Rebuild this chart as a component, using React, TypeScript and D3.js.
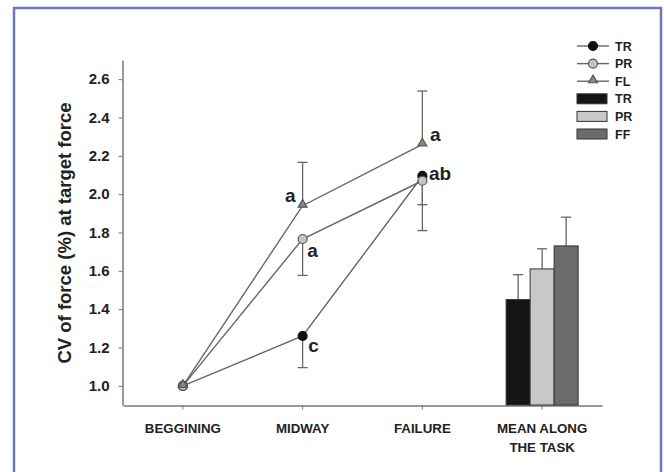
import { useEffect, useRef } from "react";
import * as d3 from "d3";

// stages along the task (x axis)
const stages = ["BEGGINING", "MIDWAY", "FAILURE", "MEAN ALONG THE TASK"];
const stageLines = [["BEGGINING"], ["MIDWAY"], ["FAILURE"], ["MEAN ALONG", "THE TASK"]];
const yTicks = [1.0, 1.2, 1.4, 1.6, 1.8, 2.0, 2.2, 2.4, 2.6];

// CV of force, line series (beginning, midway, failure)
const trMeans = [1.0, 1.26, 2.095];
const trSd = [0, 0.165, 0.15];
const prMeans = [1.0, 1.766, 2.07];
const prSd = [0, 0.19, 0.26];
const flMeans = [1.0, 1.94, 2.26];
const flSd = [0, 0.226, 0.278];
const lineNames = ["TR", "PR", "FL"];

// mean along the task (bars)
const barNames = ["TR", "PR", "FF"];
const barMeans = [1.45, 1.61, 1.73];
const barSd = [0.13, 0.105, 0.15];

// significance letters: series index, stage index, text
const letterSeries = [2, 1, 0, 2, 0];
const letterStages = [1, 1, 1, 2, 2];
const letterTexts = ["a", "a", "c", "a", "ab"];

const FONT = "'Liberation Sans', Arial, Helvetica, sans-serif";

export default function App() {
  const ref = useRef<SVGSVGElement | null>(null);

  useEffect(() => {
    if (!ref.current) return;
    const svg = d3.select(ref.current);
    svg.selectAll("*").remove();

    // frame
    svg.append("rect")
      .attr("x", 14).attr("y", 8)
      .attr("width", 647).attr("height", 480)
      .attr("fill", "#fff")
      .attr("stroke", "#6f76b6")
      .attr("stroke-width", 2.5);

    const x = d3.scaleBand().domain(stages).range([123, 602]);
    const cx = (s: string) => x(s)! + x.bandwidth() / 2;
    const y = d3.scaleLinear().domain([0.9, 2.7]).range([405, 60]);

    const g = svg.append("g").style("font-family", FONT).style("font-weight", "bold");

    // y axis
    const yAxis = g.append("g")
      .attr("transform", "translate(122.5,0)")
      .call(d3.axisLeft(y).tickValues(yTicks).tickFormat(d3.format(".1f")).tickSizeInner(4).tickSizeOuter(0).tickPadding(9));
    yAxis.select(".domain").attr("stroke", "#777").attr("stroke-width", 1.5);
    yAxis.selectAll(".tick line").attr("stroke", "#777");
    yAxis.selectAll("text")
      .attr("fill", "#222")
      .style("font-size", "15px")
      .style("font-family", FONT)
      .style("font-weight", "bold");

    // x axis
    const xAxis = g.append("g")
      .attr("transform", "translate(0,405.5)")
      .call(d3.axisBottom(x).tickSizeInner(4).tickSizeOuter(0).tickFormat(() => ""));
    xAxis.select(".domain").attr("stroke", "#777").attr("stroke-width", 1.5);
    xAxis.selectAll(".tick line").attr("stroke", "#777");
    stages.forEach((s, i) => {
      const t = g.append("text")
        .attr("x", cx(s))
        .attr("y", 433)
        .attr("text-anchor", "middle")
        .attr("fill", "#222")
        .style("font-size", "13.3px");
      stageLines[i].forEach((line, j) => {
        t.append("tspan").attr("x", cx(s)).attr("dy", j === 0 ? 0 : 18.5).text(line);
      });
    });

    // y axis title
    g.append("text")
      .attr("transform", "translate(71,233) rotate(-90)")
      .attr("text-anchor", "middle")
      .attr("fill", "#222")
      .style("font-size", "18.5px")
      .text("CV of force (%) at target force");

    // bars
    const barStage = stages[3];
    const bx = d3.scaleBand().domain(barNames)
      .range([cx(barStage) - 36, cx(barStage) + 36]);
    const barFill = ["#151515", "#c8c8c8", "#6b6b6b"];
    barNames.forEach((n, i) => {
      const xc = bx(n)! + bx.bandwidth() / 2;
      g.append("line")
        .attr("x1", xc).attr("x2", xc)
        .attr("y1", y(barMeans[i])).attr("y2", y(barMeans[i] + barSd[i]))
        .attr("stroke", "#666").attr("stroke-width", 1.3);
      g.append("line")
        .attr("x1", xc - 5).attr("x2", xc + 5)
        .attr("y1", y(barMeans[i] + barSd[i])).attr("y2", y(barMeans[i] + barSd[i]))
        .attr("stroke", "#666").attr("stroke-width", 1.3);
      g.append("rect")
        .attr("x", bx(n)!)
        .attr("y", y(barMeans[i]))
        .attr("width", bx.bandwidth())
        .attr("height", y(0.9) - y(barMeans[i]))
        .attr("fill", barFill[i])
        .attr("stroke", "#333")
        .attr("stroke-width", 1);
    });

    // line series
    const series = [
      { means: trMeans, sd: trSd, dir: -1, fill: "#111", stroke: "#111", shape: "circle" },
      { means: prMeans, sd: prSd, dir: -1, fill: "#c4c4c4", stroke: "#555", shape: "circle" },
      { means: flMeans, sd: flSd, dir: 1, fill: "#8a8a8a", stroke: "#555", shape: "triangle" },
    ];
    const line = d3.line<number>().x((_, i) => cx(stages[i])).y((d) => y(d));

    series.forEach((s) => {
      g.append("path")
        .attr("d", line(s.means))
        .attr("fill", "none")
        .attr("stroke", "#666")
        .attr("stroke-width", 1.4);
    });
    series.forEach((s) => {
      s.means.forEach((m, i) => {
        if (!s.sd[i]) return;
        const xc = cx(stages[i]);
        const end = y(m + s.dir * s.sd[i]);
        g.append("line")
          .attr("x1", xc).attr("x2", xc)
          .attr("y1", y(m)).attr("y2", end)
          .attr("stroke", "#666").attr("stroke-width", 1.3);
        g.append("line")
          .attr("x1", xc - 5).attr("x2", xc + 5)
          .attr("y1", end).attr("y2", end)
          .attr("stroke", "#666").attr("stroke-width", 1.3);
      });
    });
    const tri = d3.symbol().type(d3.symbolTriangle).size(34);
    series.forEach((s) => {
      s.means.forEach((m, i) => {
        const xc = cx(stages[i]);
        if (s.shape === "circle") {
          g.append("circle")
            .attr("cx", xc).attr("cy", y(m)).attr("r", 4.5)
            .attr("fill", s.fill).attr("stroke", s.stroke).attr("stroke-width", 1.2);
        } else {
          g.append("path")
            .attr("d", tri()!)
            .attr("transform", `translate(${xc},${y(m) - 1})`)
            .attr("fill", s.fill).attr("stroke", s.stroke).attr("stroke-width", 1.2);
        }
      });
    });

    // letters
    const letterOffsets = [
      { dx: -7, dy: -4, anchor: "end" },
      { dx: 4.5, dy: 17.5, anchor: "start" },
      { dx: 5.5, dy: 16, anchor: "start" },
      { dx: 7.5, dy: -3.5, anchor: "start" },
      { dx: 6.5, dy: 4, anchor: "start" },
    ];
    letterTexts.forEach((t, k) => {
      const s = series[letterSeries[k]];
      const st = letterStages[k];
      const o = letterOffsets[k];
      g.append("text")
        .attr("x", cx(stages[st]) + o.dx)
        .attr("y", y(s.means[st]) + o.dy)
        .attr("text-anchor", o.anchor)
        .attr("fill", "#222")
        .style("font-size", "19px")
        .text(t);
    });

    // legend
    const legend = g.append("g").attr("transform", "translate(577,46)");
    const step = 17.6;
    lineNames.forEach((n, i) => {
      const s = series[i];
      const row = legend.append("g").attr("transform", `translate(0,${i * step})`);
      row.append("line").attr("x1", 0).attr("x2", 32).attr("y1", 0).attr("y2", 0)
        .attr("stroke", "#666").attr("stroke-width", 1.4);
      if (s.shape === "circle") {
        row.append("circle").attr("cx", 16).attr("cy", 0).attr("r", 4.5)
          .attr("fill", s.fill).attr("stroke", s.stroke).attr("stroke-width", 1.2);
      } else {
        row.append("path").attr("d", tri()!).attr("transform", "translate(16,-1)")
          .attr("fill", s.fill).attr("stroke", s.stroke).attr("stroke-width", 1.2);
      }
      row.append("text").attr("x", 38).attr("y", 4.5)
        .attr("fill", "#222").style("font-size", "12.5px").text(n);
    });
    barNames.forEach((n, i) => {
      const row = legend.append("g").attr("transform", `translate(0,${(i + 3) * step})`);
      row.append("rect").attr("x", 0).attr("y", -5).attr("width", 30).attr("height", 10)
        .attr("fill", barFill[i]).attr("stroke", "#333").attr("stroke-width", 1);
      row.append("text").attr("x", 38).attr("y", 4.5)
        .attr("fill", "#222").style("font-size", "12.5px").text(n);
    });
  }, []);

  return (
    <svg
      ref={ref}
      width={664}
      height={472}
      style={{ position: "absolute", left: 0, top: 0, background: "#fff" }}
    />
  );
}
